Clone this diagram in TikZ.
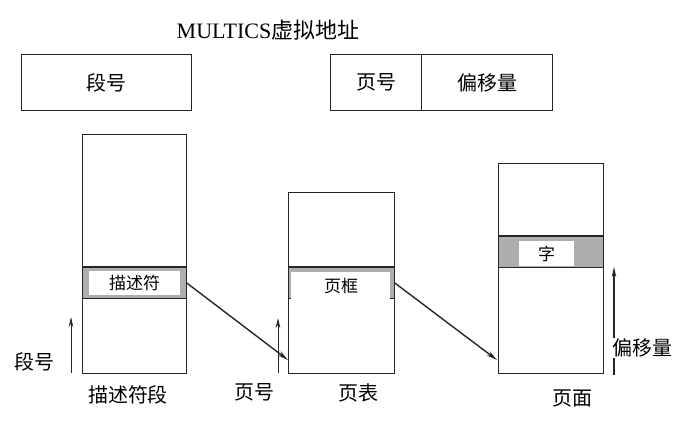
\documentclass[tikz,border=0pt]{standalone}
\usepackage{fontspec}
\setmainfont{Liberation Serif}
\newfontfamily\cjk{Noto Sans CJK SC}
\usetikzlibrary{arrows.meta}
\definecolor{ink}{HTML}{262626}
\definecolor{bandgray}{HTML}{AEAEAE}
\tikzset{
 box/.style={draw=ink, line width=1.4pt, inner sep=0pt, anchor=north west, fill=none},
 bandfill/.style={fill=bandgray, inner sep=0pt, anchor=north west},
 win/.style={fill=white, inner sep=0pt, anchor=north west},
 small/.style={font=\cjk\fontsize{17}{19}\selectfont},
 lab/.style={font=\cjk\fontsize{20}{22}\selectfont, inner sep=1pt},
 bline/.style={draw=ink, line width=1.7pt},
 arr/.style={-{Stealth[length=11pt,width=5pt]}, line width=1.4pt, draw=ink},
 varr/.style={-{Stealth[length=10pt,width=4.5pt]}, line width=0.9pt, draw=ink},
}
\begin{document}
\begin{tikzpicture}[x=1pt,y=1pt]
\useasboundingbox (0,0) rectangle (689,-425);
% title
\node[font=\fontsize{22}{24}\selectfont] (title) at (268,-30) {MULTICS{\cjk 虚拟地址}};
% virtual address boxes
\node[box, minimum width=170, minimum height=56] (seg) at (21,-54) {};
\node[lab] (segt) at (seg.center) {段号};
\node[box, minimum width=91, minimum height=56] (pg) at (330,-54) {};
\node[lab] (pgt) at (pg.center) {页号};
\node[box, minimum width=131, minimum height=56] (off) at (421,-54) {};
\node[lab] (offt) at (off.center) {偏移量};
% descriptor segment
\node[bandfill, minimum width=104, minimum height=31] (dsband) at (82,-267) {};
\node[win, minimum width=91, minimum height=24] (dswin) at (89,-271) {};
\node[small] (dstext) at (dswin.center) {描述符};
\draw[bline] (dsband.north west) -- (dsband.north east);
\draw[bline] (dsband.south west) -- (dsband.south east);
\node[box, minimum width=104, minimum height=239] (ds) at (82,-134) {};
% page table
\node[bandfill, minimum width=106, minimum height=31] (ptband) at (288,-267) {};
\node[win, minimum width=99, minimum height=26] (ptwin) at (291,-272) {};
\node[small] (pttext) at (341,-286) {页框};
\draw[bline] (ptband.north west) -- (ptband.north east);
\draw[bline] (ptband.south west) -- (ptwin.south west);
\draw[bline] (ptwin.south east) -- (ptband.south east);
\node[box, minimum width=106, minimum height=181] (pt) at (288,-192) {};
% page
\node[bandfill, minimum width=105, minimum height=31] (pband) at (498,-236) {};
\node[win, minimum width=55, minimum height=25] (pwin) at (519,-241) {};
\node[small] (ptext) at (pwin.center) {字};
\draw[bline] (pband.north west) -- (pband.north east);
\draw[bline] (pband.south west) -- (pband.south east);
\node[box, minimum width=105, minimum height=210] (pg2) at (498,-163) {};
% connectors
\coordinate (ptin) at (288,-360);
\coordinate (pin) at (497,-360);
\draw[arr] (dsband.east) -- (ptin);
\draw[arr] (ptband.east) -- (pin);
% vertical arrows
\coordinate (a1s) at (71,-373);
\coordinate (a1e) at (71,-317);
\coordinate (a2s) at (278,-373);
\coordinate (a2e) at (278,-318);
\coordinate (a3s) at (614,-375);
\coordinate (a3e) at (614,-267);
\draw[varr] (a1s) -- (a1e);
\draw[varr] (a2s) -- (a2e);
\draw[varr, line width=1.2pt] (a3s) -- (a3e);
% labels
\node[lab] (l1) at (34,-362) {段号};
\node[lab] (l2) at (128,-395) {描述符段};
\node[lab] (l3) at (254,-392) {页号};
\node[lab] (l4) at (358,-393) {页表};
\node[lab] (l5) at (572,-398) {页面};
\node[lab, fill=white] (l6) at (642,-348) {偏移量};
\end{tikzpicture}
\end{document}
